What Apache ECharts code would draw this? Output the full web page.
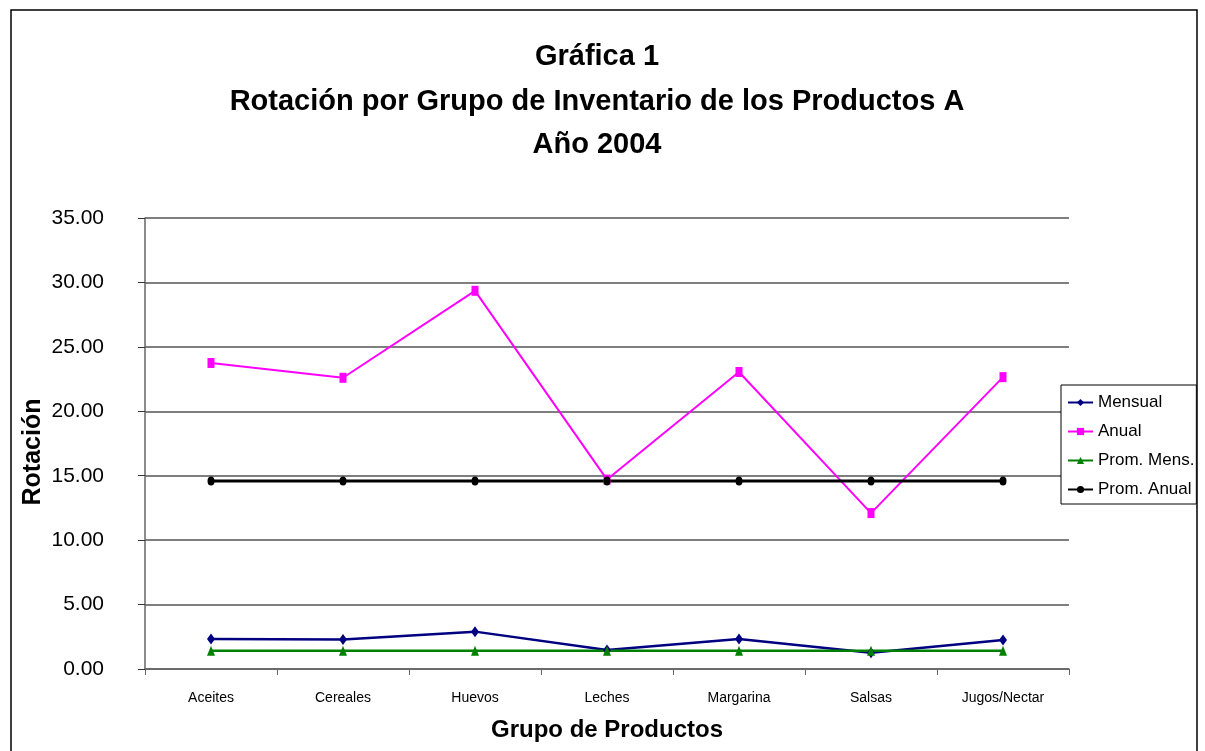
<!DOCTYPE html>
<html><head><meta charset="utf-8">
<script src="https://cdn.jsdelivr.net/npm/echarts@6/dist/echarts.min.js"></script>
<style>html,body{margin:0;padding:0;background:#fff}#c{width:1205px;height:751px}</style>
</head><body><div id="c"></div>
<script>
const categories = ['Aceites','Cereales','Huevos','Leches','Margarina','Salsas','Jugos/Nectar'];
const mensual = [2.33, 2.28, 2.90, 1.47, 2.33, 1.27, 2.25];
const anual = [23.75, 22.60, 29.35, 14.70, 23.05, 12.10, 22.65];
const promMens = [1.42, 1.42, 1.42, 1.42, 1.42, 1.42, 1.42];
const promAnual = [14.59, 14.59, 14.59, 14.59, 14.59, 14.59, 14.59];
const titleLines = ['Gráfica 1','Rotación por Grupo de Inventario de los Productos A','Año 2004'];
const yTitle = 'Rotación';
const xTitle = 'Grupo de Productos';

const F = "'Liberation Sans',Arial,sans-serif";
const chart = echarts.init(document.getElementById('c'), null, {renderer:'canvas'});
function ser(name, data, color, symbol, size, width){
  return {name, type:'line', data, symbol, symbolSize:size, showAllSymbol:true,
    lineStyle:{color, width}, itemStyle:{color, borderWidth:0}, animation:false};
}
chart.setOption({
  animation:false,
  textStyle:{fontFamily:F},
  graphic:[
    {type:'rect', shape:{x:11,y:10,width:1186,height:760}, style:{fill:'none',stroke:'#000',lineWidth:1.5}, z:-1},
    {type:'text', style:{x:597, y:57, text:titleLines[0], textAlign:'center', textVerticalAlign:'middle', font:"bold 29px "+F, fill:'#000'}},
    {type:'text', style:{x:597, y:102, text:titleLines[1], textAlign:'center', textVerticalAlign:'middle', font:"bold 29px "+F, fill:'#000'}},
    {type:'text', style:{x:597, y:145, text:titleLines[2], textAlign:'center', textVerticalAlign:'middle', font:"bold 29px "+F, fill:'#000'}},
    {type:'text', x:33, y:452, rotation:Math.PI/2, style:{x:0, y:0, text:yTitle, textAlign:'center', textVerticalAlign:'middle', font:"bold 25px "+F, fill:'#000'}}
  ],
  grid:{left:145, right:136, top:218, bottom:82, containLabel:false},
  legend:{orient:'vertical', left:1061, top:385, padding:[9,2,6,6], itemGap:12, itemWidth:25, itemHeight:9,
    backgroundColor:'#fff', borderColor:'#000', borderWidth:1,
    textStyle:{fontFamily:F, fontSize:17, color:'#000'},
    data:['Mensual','Anual','Prom. Mens.','Prom. Anual']},
  xAxis:{type:'category', data:categories, boundaryGap:true,
    name:xTitle, nameLocation:'middle', nameGap:49,
    nameTextStyle:{fontFamily:F, fontSize:24, fontWeight:'bold', color:'#000'},
    axisLine:{lineStyle:{color:'#666', width:1.5}},
    axisTick:{show:true, length:6, lineStyle:{color:'#666'}, alignWithLabel:false},
    axisLabel:{fontFamily:F, fontSize:14, color:'#000', margin:22, interval:0}},
  yAxis:{type:'value', min:0, max:35, interval:5,
    axisLine:{show:true, lineStyle:{color:'#666', width:1.5}},
    axisTick:{show:true, length:7, lineStyle:{color:'#333'}},
    axisLabel:{fontFamily:F, fontSize:21, color:'#000', margin:41, formatter:v=>v.toFixed(2)},
    splitLine:{lineStyle:{color:'#555', width:1.5}}},
  series:[
    ser('Mensual', mensual, '#000080', 'diamond', [8,11], 2.5),
    ser('Anual', anual, '#FF00FF', 'rect', [7,10], 2),
    ser('Prom. Mens.', promMens, '#008000', 'triangle', [8,10], 2.5),
    ser('Prom. Anual', promAnual, '#000000', 'circle', [7,9], 3)
  ]
});
</script></body></html>
